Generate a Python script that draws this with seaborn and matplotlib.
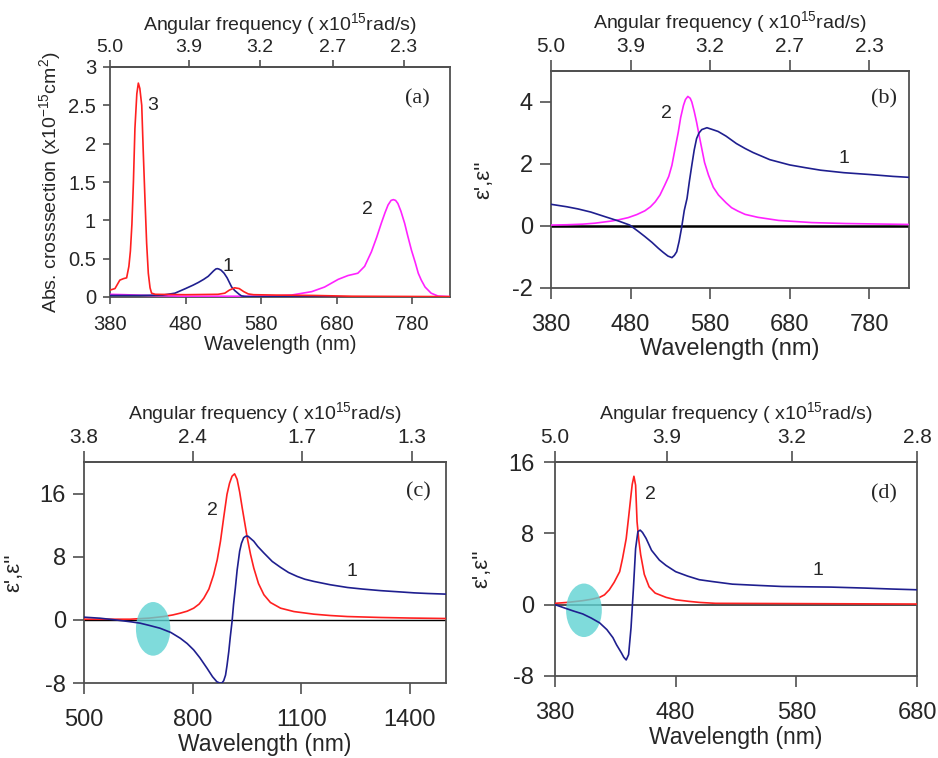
import numpy as np
import pandas as pd
import seaborn as sns
import matplotlib
matplotlib.use("Agg")
import matplotlib.pyplot as plt
from matplotlib.patches import Ellipse

# ---------------- data ----------------
# Panel (a): absorption cross-section
a_wl1 = [380, 420, 450, 466, 480, 490, 497, 504, 510, 514, 517, 520, 522, 524, 527, 531, 535, 538, 541,
         545, 548, 551, 554, 558, 562, 600, 700, 830]
a_y1 = [0.02, 0.02, 0.025, 0.05, 0.11, 0.155, 0.19, 0.23, 0.27, 0.31, 0.34, 0.365, 0.37, 0.365, 0.35,
        0.31, 0.25, 0.19, 0.13, 0.085, 0.06, 0.035, 0.015, 0.008, 0.005, 0.003, 0.002, 0.002]

a_wl2 = [380, 400, 430, 480, 560, 600, 620, 647, 664, 682, 695, 708, 717, 726, 733, 739, 744, 748,
         752, 755, 758, 761, 765, 770, 774, 779, 784, 788, 792, 797, 805, 814, 830]
a_y2 = [0.035, 0.03, 0.02, 0.01, 0.01, 0.015, 0.025, 0.07, 0.13, 0.23, 0.28, 0.31, 0.40, 0.59, 0.78, 0.96, 1.10, 1.20,
        1.26, 1.27, 1.26, 1.22, 1.12, 0.96, 0.80, 0.61, 0.45, 0.31, 0.22, 0.13, 0.05, 0.013, 0.005]

a_wl3 = [380, 386.6, 393, 398, 402, 405, 407, 409, 411, 413, 415.5, 417.5, 419.5, 422, 424, 426.3, 428.5,
         430.7, 433, 435, 440, 480, 523, 532, 538, 545, 551, 557, 563, 570, 600, 650, 700, 830]
a_y3 = [0.09, 0.11, 0.22, 0.24, 0.25, 0.40, 0.6, 0.95, 1.5, 2.2, 2.65, 2.79, 2.72, 2.5, 1.9, 1.27, 0.7,
        0.31, 0.12, 0.05, 0.035, 0.03, 0.035, 0.05, 0.09, 0.12, 0.11, 0.07, 0.04, 0.03, 0.025, 0.02, 0.01, 0.005]

# Panel (b): permittivity (1 = real part, 2 = imaginary part)
b_wl1 = [380, 400, 414, 430, 448, 465, 479, 490, 498, 507, 515, 521, 527, 532, 535, 538, 541, 544, 547.5,
         551, 554, 557, 560, 563, 566, 569.5, 576, 582, 590, 600, 613, 624, 634, 655, 680, 700, 719, 748,
         781, 810, 830]
b_y1 = [0.70, 0.62, 0.55, 0.45, 0.30, 0.16, 0.03, -0.18, -0.34, -0.53, -0.72, -0.85, -0.97, -1.02, -0.95,
        -0.83, -0.5, -0.08, 0.5, 0.89, 1.45, 1.96, 2.45, 2.82, 3.0, 3.11, 3.17, 3.12, 3.05, 2.9, 2.66, 2.5,
        2.37, 2.14, 1.97, 1.88, 1.80, 1.72, 1.66, 1.60, 1.57]
b_wl2 = [380, 400, 420, 435, 456, 465, 477, 488, 498, 505, 511, 517, 523, 528, 532, 536, 540, 543, 546.5,
         549, 552, 555, 557, 560, 563, 566, 569.5, 573, 578, 584, 590.5, 600, 607, 615, 624, 640, 666, 690,
         708, 750, 792, 830]
b_y2 = [0.03, 0.04, 0.06, 0.09, 0.16, 0.20, 0.27, 0.37, 0.49, 0.62, 0.78, 1.0, 1.32, 1.6, 1.96, 2.5, 3.03,
        3.5, 3.89, 4.08, 4.18, 4.12, 4.0, 3.7, 3.35, 2.95, 2.50, 2.05, 1.64, 1.25, 1.0, 0.75, 0.59, 0.48,
        0.375, 0.28, 0.18, 0.14, 0.11, 0.08, 0.064, 0.05]

# Panel (c)
c_wl1 = [500, 544, 560, 580, 600, 630, 655, 680, 710, 740, 766, 785, 803, 820, 840, 855, 867, 875, 881,
         886, 891, 895, 900, 904, 909, 913, 918, 923, 930, 935, 941, 947, 953, 969, 980, 997, 1020, 1043,
         1065, 1089, 1110, 1135, 1180, 1228, 1270, 1320, 1370, 1412, 1450, 1500]
c_y1 = [0.34, 0.21, 0.13, 0.03, -0.08, -0.25, -0.42, -0.7, -1.06, -1.6, -2.33, -3.0, -3.81, -4.8, -6.14,
        -7.2, -7.84, -8.0, -8.0, -7.7, -7.0, -5.8, -4.0, -2.2, -0.2, 1.9, 4.0, 6.3, 8.7, 9.7, 10.4, 10.6,
        10.6, 9.96, 9.3, 8.47, 7.4, 6.65, 6.0, 5.5, 5.15, 4.87, 4.45, 4.1, 3.9, 3.7, 3.55, 3.42, 3.34, 3.26]
c_wl2 = [500, 627, 680, 720, 745, 766, 785, 803, 818, 831, 845, 858, 868, 877, 886, 895, 902, 909, 916,
         923, 930, 937, 944, 951, 960, 969, 982, 997, 1015, 1043, 1080, 1135, 1180, 1228, 1320, 1400, 1500]
c_y2 = [0.08, 0.08, 0.22, 0.42, 0.62, 0.85, 1.1, 1.48, 2.0, 2.75, 3.9, 5.7, 7.6, 9.96, 13.0, 15.9, 17.3,
        18.2, 18.5, 17.8, 16.2, 14.2, 12.3, 10.4, 8.3, 6.57, 4.6, 3.18, 2.2, 1.48, 1.05, 0.72, 0.55, 0.42,
        0.30, 0.23, 0.17]

# Panel (d)
d_wl1 = [380, 389.6, 395, 403, 410, 417, 423, 428, 431, 435, 437, 439, 441, 443, 445, 446.8, 448.7, 450.6,
         452.5, 455.5, 460, 466.5, 472, 480, 490, 499.5, 510, 527, 550, 568, 590, 609, 637, 660, 680]
d_y1 = [0, -0.45, -0.7, -1.04, -1.5, -2.04, -2.8, -3.7, -4.5, -5.4, -5.9, -6.2, -5.6, -2.6, 1.86, 6.3,
        8.2, 8.36, 8.1, 7.43, 6.1, 5.0, 4.4, 3.7, 3.2, 2.8, 2.6, 2.3, 2.15, 2.04, 2.0, 1.97, 1.86, 1.75, 1.67]
d_wl2 = [380, 390, 403, 410, 417, 421, 425, 429, 433.6, 436, 439, 441, 443, 444, 445.4, 446.8, 448, 449.5,
         451, 454, 458, 463, 472, 480, 491, 500, 513, 680]
d_y2 = [0.15, 0.25, 0.45, 0.6, 0.82, 1.1, 1.67, 2.5, 3.7, 5.2, 7.4, 9.8, 12.3, 13.5, 14.4, 13.4, 9.3, 7.2,
        5.6, 3.4, 2.0, 1.3, 0.82, 0.55, 0.37, 0.25, 0.15, 0.07]

# tick labels
a_top_labels = ["5.0", "3.9", "3.2", "2.7", "2.3"]
b_top_labels = ["5.0", "3.9", "3.2", "2.7", "2.3"]
c_top_labels = ["3.8", "2.4", "1.7", "1.3"]
d_top_labels = ["5.0", "3.9", "3.2", "2.8"]
a_yticklabels = ["0", "0.5", "1", "1.5", "2", "2.5", "3"]

# ---------------- styling ----------------
sns.set_style("ticks")
plt.rcParams["font.family"] = ["Liberation Sans", "DejaVu Sans"]
plt.rcParams["mathtext.default"] = "regular"

BLUE = "#1f1f8f"
MAG = "#ff22ff"
RED = "#ff2020"
SPINE = "#505050"
CYAN = "#5fd3d3"

fig = plt.figure(figsize=(9.38, 7.58), dpi=100)

axA = fig.add_axes([110/938, 1-297/758, 340/938, 230/758])
axB = fig.add_axes([551/938, 1-288/758, 358/938, 217/758])
axC = fig.add_axes([84/938, 1-683/758, 362/938, 221/758])
axD = fig.add_axes([555/938, 1-676/758, 362/938, 214/758])


def line(ax, x, y, color, lw=1.2, z=3):
    df = pd.DataFrame({"x": x, "y": y})
    sns.lineplot(data=df, x="x", y="y", ax=ax, color=color, lw=lw, estimator=None, sort=False, zorder=z)


def style(ax, xlim, xticks, ylim, yticks, ylabels, top_pos, top_labels,
          tick_fs, top_fs, xlab_fs, ylabel, ylab_fs, ylabpad, ticklen, bpad, lpad, tpad):
    ax.set_xlim(*xlim)
    ax.set_ylim(*ylim)
    ax.set_xticks(xticks)
    ax.set_xticklabels([str(t) for t in xticks])
    ax.set_yticks(yticks)
    ax.set_yticklabels(ylabels)
    for s in ax.spines.values():
        s.set_color(SPINE)
        s.set_linewidth(1.3)
        s.set_visible(True)
    ax.tick_params(axis="x", direction="out", length=ticklen, width=1.2, color=SPINE,
                   labelsize=tick_fs, pad=bpad, top=False)
    ax.tick_params(axis="y", direction="out", length=ticklen, width=1.2, color=SPINE,
                   labelsize=tick_fs, pad=lpad, right=False)
    ax.set_xlabel("Wavelength (nm)", fontsize=xlab_fs, labelpad=1)
    ax.set_ylabel(ylabel, fontsize=ylab_fs, labelpad=ylabpad)
    sec = ax.secondary_xaxis("top")
    sec.set_xticks(top_pos)
    sec.set_xticklabels(top_labels)
    sec.spines["top"].set_color(SPINE)
    sec.spines["top"].set_linewidth(1.3)
    sec.tick_params(direction="out", length=ticklen, width=1.2, color=SPINE, labelsize=top_fs, pad=tpad)
    sec.set_xlabel("Angular frequency ( x10$^{15}$rad/s)", fontsize=14, labelpad=6)
    ax.grid(False)


# Panel (a)
line(axA, a_wl2, a_y2, MAG)
line(axA, a_wl1, a_y1, BLUE)
line(axA, a_wl3, a_y3, RED)
style(axA, (380, 830), [380, 480, 580, 680, 780], (0, 3), [0, 0.5, 1, 1.5, 2, 2.5, 3], a_yticklabels,
      [380, 484, 578, 675, 769], a_top_labels, 14.5, 14, 14.5,
      "Abs. crosssection (x10$^{-15}$cm$^{2}$)", 14, 4, 5, 8, 5, 3)
axA.text(436, 2.5, "3", fontsize=14, ha="center", va="center")
axA.text(536, 0.40, "1", fontsize=14, ha="center", va="center")
axA.text(721, 1.14, "2", fontsize=14, ha="center", va="center")
axA.text(787, 2.58, "(a)", fontsize=16, ha="center", va="center", family="Liberation Serif")

# Panel (b)
axB.axhline(0, color="black", lw=1.8, zorder=2)
line(axB, b_wl2, b_y2, MAG)
line(axB, b_wl1, b_y1, BLUE)
style(axB, (380, 830), [380, 480, 580, 680, 780], (-2, 5), [-2, 0, 2, 4], ["-2", "0", "2", "4"],
      [380, 480, 580, 680, 780], b_top_labels, 17, 15, 17,
      "ε',ε''", 16, 13, 8, 11, 5, 3)
axB.text(525.5, 3.62, "2", fontsize=14, ha="center", va="center")
axB.text(747.7, 2.18, "1", fontsize=14, ha="center", va="center")
axB.text(798, 4.09, "(b)", fontsize=16, ha="center", va="center", family="Liberation Serif")

# Panel (c)
axC.axhline(0, color="black", lw=1.0, zorder=2)
line(axC, c_wl2, c_y2, RED, z=3)
axC.add_patch(Ellipse((691, -1.14), 95, 6.8, facecolor=CYAN, edgecolor="none", alpha=0.8, zorder=4))
line(axC, c_wl1, c_y1, BLUE, z=5)
style(axC, (500, 1500), [500, 800, 1100, 1400], (-8, 20), [-8, 0, 8, 16], ["-8", "0", "8", "16"],
      [500, 800, 1102, 1407], c_top_labels, 17, 15, 16.5,
      "ε',ε''", 16, 11, 8, 11, 5, 3)
axC.text(854.5, 13.9, "2", fontsize=14, ha="center", va="center")
axC.text(1240.5, 6.14, "1", fontsize=14, ha="center", va="center")
axC.text(1423, 16.2, "(c)", fontsize=16, ha="center", va="center", family="Liberation Serif")

# Panel (d)
axD.axhline(0, color="#404040", lw=1.3, zorder=2)
line(axD, d_wl2, d_y2, RED, z=3)
axD.add_patch(Ellipse((404, -0.63), 29.6, 6.0, facecolor=CYAN, edgecolor="none", alpha=0.8, zorder=4))
line(axD, d_wl1, d_y1, BLUE, z=5)
style(axD, (380, 680), [380, 480, 580, 680], (-8, 16), [-8, 0, 8, 16], ["-8", "0", "8", "16"],
      [380, 473, 576, 680], d_top_labels, 17, 15, 16.5,
      "ε',ε''", 16, 11, 8, 11, 7, 3)
axD.text(458.9, 12.3, "2", fontsize=14, ha="center", va="center")
axD.text(598, 3.8, "1", fontsize=14, ha="center", va="center")
axD.text(653, 12.4, "(d)", fontsize=16, ha="center", va="center", family="Liberation Serif")

fig.savefig("out.png", dpi=100)
